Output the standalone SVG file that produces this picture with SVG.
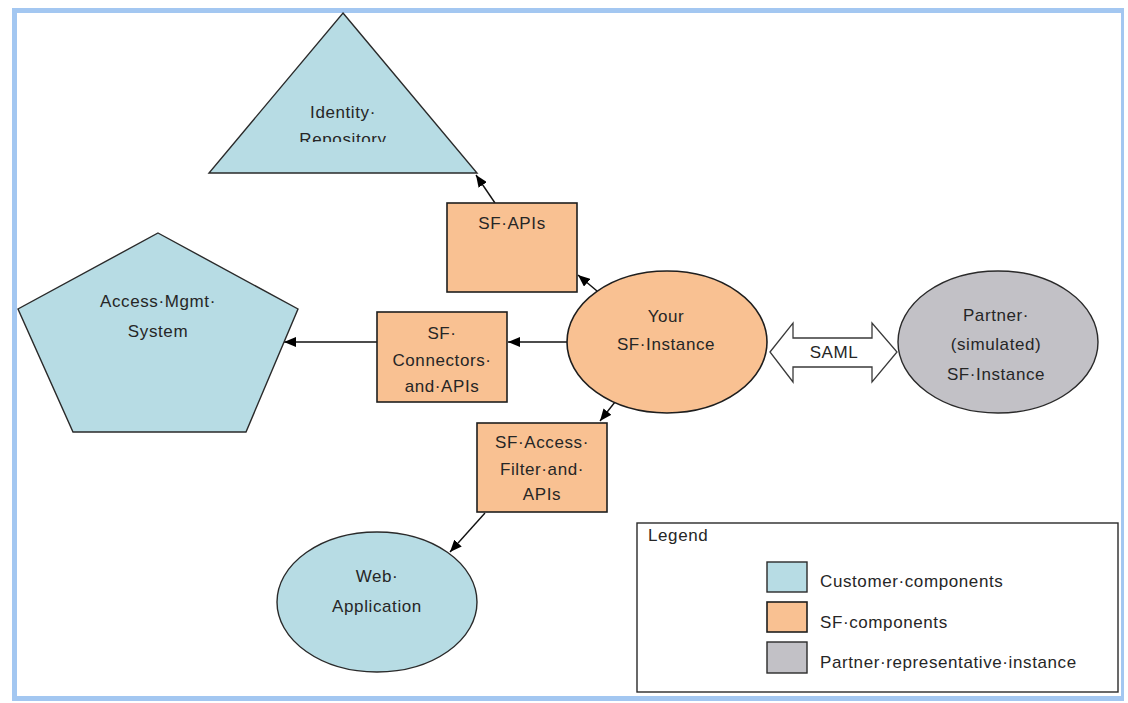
<svg xmlns="http://www.w3.org/2000/svg" width="1128" height="703" viewBox="0 0 1128 703">
  <style>
    .cust { fill: #b7dce4; stroke: #2a2a2a; stroke-width: 1.4; }
    .sf { fill: #f9c192; stroke: #1e1e1e; stroke-width: 1.6; }
    .partner { fill: #c2c1c6; stroke: #2a2a2a; stroke-width: 1.4; }
    .lbl { font-family: "Liberation Sans", Arial, sans-serif; font-size: 17px; fill: #262626; letter-spacing: 0.6px; text-anchor: middle; }
    .leg { font-family: "Liberation Sans", Arial, sans-serif; font-size: 17px; fill: #262626; letter-spacing: 0.6px; }
    .edge { stroke: #111; stroke-width: 1.4; fill: none; marker-end: url(#ah); }
    .frame { fill: #a3c7f1; }
  </style>
  <defs>
    <marker id="ah" viewBox="0 0 12 10" refX="12" refY="5" markerWidth="12" markerHeight="10" markerUnits="userSpaceOnUse" orient="auto">
      <path d="M0,0 L12,5 L0,10 z" fill="#000"/>
    </marker>
    <clipPath id="triClip">
      <rect x="200" y="10" width="290" height="132"/>
    </clipPath>
  </defs>

  <rect width="1128" height="703" fill="#ffffff"/>

  <!-- page frame -->
  <g id="frame">
    <rect class="frame" x="12" y="8" width="1112" height="5"/>
    <rect class="frame" x="12" y="8" width="5" height="693"/>
    <rect class="frame" x="1121" y="8" width="3" height="693"/>
    <rect class="frame" x="12" y="696" width="1112" height="5"/>
  </g>

  <!-- connectors -->
  <g id="connectors">
    <line class="edge" x1="495" y1="203" x2="476" y2="175"/>
    <line class="edge" x1="597" y1="291" x2="578" y2="275"/>
    <line class="edge" x1="567" y1="342" x2="508" y2="342"/>
    <line class="edge" x1="377" y1="342" x2="284" y2="342"/>
    <line class="edge" x1="615" y1="402" x2="600" y2="421"/>
    <line class="edge" x1="485" y1="513" x2="450" y2="552"/>
    <g id="saml">
      <polygon points="770,352 793,323 793,338 872,338 872,323 897,352 872,382 872,367 793,367 793,382" fill="#ffffff" stroke="#3a3a3a" stroke-width="1.3"/>
      <text class="lbl" x="834" y="358">SAML</text>
    </g>
  </g>

  <g id="identity-repository">
    <polygon class="cust" points="343,13 477,173 209,173"/>
    <g clip-path="url(#triClip)">
      <text class="lbl" x="343" y="118">Identity·</text>
      <text class="lbl" x="343" y="145">Repository</text>
    </g>
  </g>

  <g id="access-mgmt">
    <polygon class="cust" points="158,233 298,309 246,432 73,432 18,309"/>
    <text class="lbl" x="158" y="307">Access·Mgmt·</text>
    <text class="lbl" x="158" y="337">System</text>
  </g>

  <g id="sf-apis">
    <rect class="sf" x="447" y="203" width="130" height="89"/>
    <text class="lbl" x="512" y="229">SF·APIs</text>
  </g>

  <g id="sf-connectors">
    <rect class="sf" x="377" y="312" width="130" height="90"/>
    <text class="lbl" x="442" y="339">SF·</text>
    <text class="lbl" x="442" y="366">Connectors·</text>
    <text class="lbl" x="442" y="392">and·APIs</text>
  </g>

  <g id="your-instance">
    <ellipse class="sf" cx="667" cy="342" rx="100" ry="71"/>
    <text class="lbl" x="666" y="322">Your</text>
    <text class="lbl" x="666" y="350">SF·Instance</text>
  </g>

  <g id="partner-instance">
    <ellipse class="partner" cx="998" cy="342" rx="100" ry="71"/>
    <text class="lbl" x="996" y="321">Partner·</text>
    <text class="lbl" x="996" y="350">(simulated)</text>
    <text class="lbl" x="996" y="380">SF·Instance</text>
  </g>

  <g id="sf-access-filter">
    <rect class="sf" x="477" y="423" width="130" height="89"/>
    <text class="lbl" x="542" y="448">SF·Access·</text>
    <text class="lbl" x="542" y="475">Filter·and·</text>
    <text class="lbl" x="542" y="500">APIs</text>
  </g>

  <g id="web-application">
    <ellipse class="cust" cx="377" cy="602" rx="100" ry="70"/>
    <text class="lbl" x="377" y="582">Web·</text>
    <text class="lbl" x="377" y="612">Application</text>
  </g>

  <g id="legend">
    <rect x="637" y="523" width="481" height="169" fill="#ffffff" stroke="#2a2a2a" stroke-width="1.4"/>
    <text class="leg" x="648" y="541">Legend</text>
    <rect class="cust" x="767" y="562" width="40" height="30"/>
    <text class="leg" x="820" y="587">Customer·components</text>
    <rect class="sf" x="767" y="602" width="40" height="30"/>
    <text class="leg" x="820" y="628">SF·components</text>
    <rect class="partner" x="767" y="642" width="40" height="31"/>
    <text class="leg" x="820" y="668">Partner·representative·instance</text>
  </g>
</svg>
